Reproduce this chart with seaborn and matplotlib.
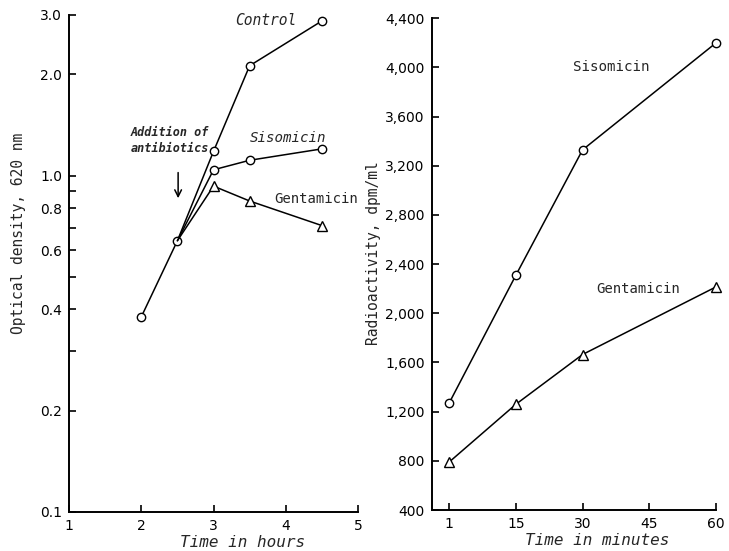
import numpy as np
import pandas as pd
import matplotlib
matplotlib.use("Agg")
import matplotlib.pyplot as plt
from matplotlib.ticker import FixedLocator, FixedFormatter
import seaborn as sns

# left panel: growth (optical density vs hours)
hours_control = [2, 2.5, 3, 3.5, 4.5]
od_control = [0.38, 0.64, 1.18, 2.12, 2.88]
hours_siso = [2.5, 3, 3.5, 4.5]
od_siso = [0.64, 1.04, 1.11, 1.20]
hours_genta = [2.5, 3, 3.5, 4.5]
od_genta = [0.64, 0.93, 0.84, 0.71]

od_ticks = [0.1, 0.2, 0.3, 0.4, 0.5, 0.6, 0.7, 0.8, 0.9, 1.0, 2.0, 3.0]
od_ticklabels = ["0.1", "0.2", "", "0.4", "", "0.6", "", "0.8", "", "1.0", "2.0", "3.0"]
hour_ticks = [1, 2, 3, 4, 5]

# right panel: uptake (radioactivity vs minutes)
minutes = [1, 15, 30, 60]
dpm_siso = [1270, 2310, 3330, 4200]
dpm_genta = [790, 1260, 1665, 2215]

minute_ticks = [1, 15, 30, 45, 60]
dpm_ticks = [400, 800, 1200, 1600, 2000, 2400, 2800, 3200, 3600, 4000, 4400]

sns.set_theme(style="ticks")
plt.rcParams["font.family"] = ["DejaVu Sans Mono", "DejaVu Sans"]
plt.rcParams["axes.linewidth"] = 1.4

fig = plt.figure(figsize=(7.29, 5.51), dpi=100)
ax1 = fig.add_axes([0.0947, 0.0708, 0.3964, 0.902])
ax2 = fig.add_axes([0.5922, 0.0744, 0.39, 0.8924])

line_kw = dict(color="black", linewidth=1.1, markerfacecolor="white",
               markeredgecolor="black", markeredgewidth=1.0, clip_on=False)

sns.lineplot(x=hours_control, y=od_control, marker="o", markersize=6, ax=ax1, **line_kw)
# the 2.5 h point is shared with the control curve, so no marker there
sns.lineplot(x=hours_siso, y=od_siso, marker="o", markersize=6, markevery=[1, 2, 3],
             ax=ax1, **line_kw)
sns.lineplot(x=hours_genta, y=od_genta, marker="^", markersize=7, markevery=[1, 2, 3],
             ax=ax1, **line_kw)

ax1.set_yscale("log")
ax1.set_ylim(0.1, 3.0)
ax1.set_xlim(1, 5)
ax1.yaxis.set_major_locator(FixedLocator(od_ticks))
ax1.yaxis.set_major_formatter(FixedFormatter(od_ticklabels))
ax1.yaxis.set_minor_locator(FixedLocator([]))
ax1.set_xticks(hour_ticks)
ax1.set_xticklabels([str(h) for h in hour_ticks])

ax1.text(3.30, 2.88, "Control", fontsize=10.5, ha="left", va="center", style="italic")
ax1.text(3.50, 1.29, "Sisomicin", fontsize=10.2, ha="left", va="center", style="italic")
ax1.text(3.84, 0.851, "Gentamicin", fontsize=10, ha="left", va="center")
ax1.text(2.40, 1.27, "Addition of\nantibiotics", fontsize=8.5, ha="center", va="center",
         style="italic", fontweight="bold", linespacing=1.3)
ax1.annotate("", xy=(2.51, 0.84), xytext=(2.51, 1.04),
             arrowprops=dict(arrowstyle="->", color="black", lw=1.1))

ax1.set_xlabel("Time in hours", fontsize=11.5, style="italic", va="top")
ax1.set_ylabel("Optical density, 620 nm", fontsize=10.5)
ax1.xaxis.set_label_coords(0.60, -0.046)
ax1.yaxis.set_label_coords(-0.149, 0.560)


# equally spaced minute ticks: piecewise linear scale
def fwd(m):
    m = np.asarray(m, dtype=float)
    return np.where(m < 15, (m - 1) / 14, (m - 15) / 15 + 1)


def inv(p):
    p = np.asarray(p, dtype=float)
    return np.where(p < 1, 1 + 14 * p, 15 + 15 * (p - 1))


ax2.set_xscale("function", functions=(fwd, inv))
sns.lineplot(x=minutes, y=dpm_siso, marker="o", markersize=6, ax=ax2, **line_kw)
sns.lineplot(x=minutes, y=dpm_genta, marker="^", markersize=7, ax=ax2, **line_kw)

ax2.set_xlim(-2.66, 60)
ax2.set_ylim(400, 4400)
ax2.set_xticks(minute_ticks)
ax2.set_xticklabels([str(m) for m in minute_ticks])
ax2.set_yticks(dpm_ticks)
ax2.set_yticklabels([f"{v:,}" for v in dpm_ticks])

ax2.text(27.9, 4004, "Sisomicin", fontsize=10.2, ha="left", va="center")
ax2.text(33.1, 2198, "Gentamicin", fontsize=10, ha="left", va="center")

ax2.set_xlabel("Time in minutes", fontsize=11.5, style="italic", va="top")
ax2.set_ylabel("Radioactivity, dpm/ml", fontsize=10.5)
ax2.xaxis.set_label_coords(0.583, -0.047)
ax2.yaxis.set_label_coords(-0.18, 0.523)

for ax in (ax1, ax2):
    sns.despine(ax=ax)
    ax.tick_params(axis="both", which="both", direction="in", length=5, width=1.2,
                   labelsize=10, colors="black", pad=5)
    for lab in ax.get_xticklabels() + ax.get_yticklabels():
        lab.set_family("DejaVu Sans")
    ax.spines["left"].set_color("black")
    ax.spines["bottom"].set_color("black")

fig.savefig("out.png", dpi=100)
